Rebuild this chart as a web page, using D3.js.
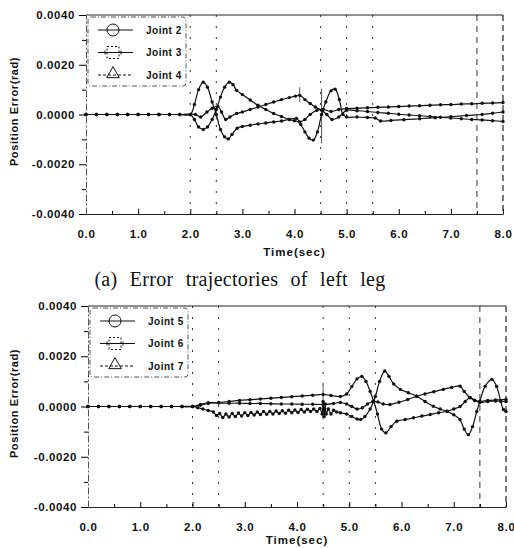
<!DOCTYPE html>
<html>
<head>
<meta charset="utf-8">
<script src="https://cdn.jsdelivr.net/npm/d3@7"></script>
<style>
  body { margin: 0; background: #fff; }
  svg { display: block; }
  text { font-family: "Liberation Sans", Arial, sans-serif; fill: #111; }
</style>
</head>
<body>
<script>
'use strict';

// tick values
const timeTicks = [0, 1, 2, 3, 4, 5, 6, 7, 8];
const timeMinor = [0.5, 1.5, 2.5, 3.5, 4.5, 5.5, 6.5, 7.5];
const errorTicks = [-0.004, -0.002, 0, 0.002, 0.004];
const errorMinor = [-0.003, -0.001, 0.001, 0.003];

// vertical phase markers (sec)
const phaseLines = [2.0, 2.5, 4.5, 5.0, 5.5, 7.5];

// legend names
const leftNames = ["Joint 2", "Joint 3", "Joint 4"];
const rightNames = ["Joint 5", "Joint 6", "Joint 7"];

// left leg, [time, error]
const joint2 = [[0,0],[0.2,0],[0.4,0],[0.6,0],[0.8,0],[1.0,0],[1.2,0],[1.4,0],[1.6,0],[1.8,0],[2.0,0],
  [2.08,0.0004],[2.16,0.0010],[2.25,0.0013],[2.33,0.0011],[2.42,0.0005],[2.5,0.0],[2.58,-0.0006],
  [2.66,-0.0009],[2.73,-0.00098],[2.8,-0.0008],[2.9,-0.00055],[3.0,-0.00048],[3.15,-0.00043],
  [3.3,-0.00038],[3.45,-0.00034],[3.6,-0.0003],[3.75,-0.00026],[3.9,-0.0002],[4.04,-0.00016],
  [4.12,-0.0004],[4.2,-0.0007],[4.28,-0.00095],[4.36,-0.00103],[4.44,-0.0007],[4.52,0.0],
  [4.6,0.0005],[4.7,0.00095],[4.78,0.00102],[4.86,0.0006],[4.93,0.0],[5.0,-0.0001],[5.2,-0.0001],
  [5.4,-0.00012],[5.55,-0.00014],[5.65,-0.00026],[5.85,-0.00024],[6.1,-0.00021],[6.4,-0.00017],
  [6.7,-0.00013],[7.0,-0.00009],[7.3,-0.00004],[7.6,0.0],[7.8,0.00005],[8.0,0.0001]];

const joint3 = [[0,0],[0.2,0],[0.4,0],[0.6,0],[0.8,0],[1.0,0],[1.2,0],[1.4,0],[1.6,0],[1.8,0],[2.0,0],
  [2.08,-0.0002],[2.16,-0.0005],[2.25,-0.0006],[2.33,-0.0005],[2.42,-0.0002],[2.5,0.0002],[2.58,0.0007],
  [2.66,0.0011],[2.75,0.0013],[2.82,0.0012],[2.89,0.00097],[3.0,0.0008],[3.15,0.00058],[3.3,0.00037],
  [3.45,0.0002],[3.6,0.00004],[3.75,-0.00008],[3.9,-0.0002],[4.0,-0.00025],[4.1,-0.0003],[4.2,-0.0002],
  [4.3,0.0],[4.43,0.00017],[4.55,0.0002],[4.7,0.00012],[4.85,0.0002],[5.0,0.00024],[5.2,0.00025],
  [5.4,0.00027],[5.6,0.00029],[5.8,0.0003],[6.0,0.00032],[6.2,0.00034],[6.4,0.00035],[6.6,0.00037],
  [6.8,0.00039],[7.0,0.0004],[7.2,0.00042],[7.4,0.00043],[7.6,0.00045],[7.8,0.00046],[8.0,0.00048]];

const joint4 = [[0,0],[0.2,0],[0.4,0],[0.6,0],[0.8,0],[1.0,0],[1.2,0],[1.4,0],[1.6,0],[1.8,0],[2.0,0],
  [2.1,0.0],[2.2,-0.0001],[2.32,0.0001],[2.42,0.00025],[2.53,0.00032],[2.6,0.0001],[2.68,-0.0002],
  [2.76,-0.0001],[2.89,0.00004],[3.0,0.0001],[3.15,0.0002],[3.3,0.0003],[3.45,0.0004],[3.6,0.0005],
  [3.75,0.0006],[3.9,0.00068],[4.02,0.00074],[4.1,0.00077],[4.2,0.0006],[4.3,0.00044],[4.4,0.0003],
  [4.52,0.00017],[4.62,0.0],[4.72,-0.0002],[4.85,-0.0001],[5.0,0.00017],[5.2,0.00015],[5.4,0.00012],
  [5.6,0.00008],[5.8,0.00005],[6.0,0.00001],[6.2,-0.00002],[6.4,-0.00005],[6.6,-0.00008],
  [6.8,-0.00011],[7.0,-0.00014],[7.2,-0.00017],[7.4,-0.0002],[7.6,-0.00022],[7.8,-0.00025],[8.0,-0.00028]];

// right leg, [time, error]
const joint5 = [[0,0],[0.2,0],[0.4,0],[0.6,0],[0.8,0],[1.0,0],[1.2,0],[1.4,0],[1.6,0],[1.8,0],[2.0,0],
  [2.1,-0.00005],[2.2,-0.0001],[2.3,-0.00016],[2.40,-0.00022],[2.46,-0.00036],[2.52,-0.00028],
  [2.58,-0.00044],[2.64,-0.0003],[2.70,-0.00042],[2.76,-0.00028],[2.82,-0.0004],[2.88,-0.00026],
  [2.94,-0.00038],[3.00,-0.00025],[3.06,-0.00036],[3.12,-0.00024],[3.18,-0.00034],[3.24,-0.00022],
  [3.30,-0.00032],[3.36,-0.0002],[3.42,-0.00031],[3.48,-0.0002],[3.54,-0.0003],[3.60,-0.00018],
  [3.66,-0.00028],[3.72,-0.00017],[3.78,-0.00027],[3.84,-0.00015],[3.90,-0.00025],[3.96,-0.00014],
  [4.02,-0.00024],[4.08,-0.00012],[4.14,-0.00022],[4.20,-0.00011],[4.26,-0.0002],[4.32,-0.0001],
  [4.38,-0.0002],[4.44,-0.00008],[4.48,-0.0003],[4.50,0.0002],[4.52,-0.0004],[4.54,0.0001],
  [4.56,-0.0003],[4.6,-0.0001],[4.65,-0.0003],[4.7,-0.00015],[4.76,-0.00022],[4.83,-0.00025],
  [4.95,-0.0003],[5.05,-0.0004],[5.15,-0.0005],[5.22,-0.00052],[5.3,-0.0004],[5.4,-0.0001],
  [5.5,0.0004],[5.58,0.001],[5.68,0.00141],[5.76,0.0012],[5.85,0.0009],[5.98,0.00068],[6.13,0.00055],
  [6.29,0.00041],[6.45,0.0002],[6.61,0.00001],[6.74,-0.0001],[6.87,-0.00019],[7.0,-0.00033],
  [7.12,-0.00052],[7.2,-0.0009],[7.28,-0.00112],[7.36,-0.0008],[7.44,-0.0002],[7.5,0.0002],
  [7.6,0.0008],[7.73,0.00108],[7.82,0.0008],[7.9,0.0002],[7.95,-0.00012],[8.0,-0.0002]];

const joint6 = [[0,0],[0.2,0],[0.4,0],[0.6,0],[0.8,0],[1.0,0],[1.2,0],[1.4,0],[1.6,0],[1.8,0],[2.0,0],
  [2.15,0.00008],[2.3,0.00015],[2.5,0.00014],[2.7,0.00013],[2.9,0.00013],[3.1,0.00012],[3.3,0.00012],
  [3.5,0.00011],[3.7,0.0001],[3.9,0.0001],[4.1,0.00009],[4.3,0.00009],[4.5,0.00008],[4.7,0.00012],
  [4.83,0.00016],[4.95,0.0001],[5.05,0.0],[5.15,-0.0001],[5.25,-0.00005],[5.35,0.0001],[5.45,0.0002],
  [5.55,0.00018],[5.65,0.0001],[5.78,0.00008],[5.95,0.00017],[6.12,0.00028],[6.29,0.00041],
  [6.45,0.0005],[6.62,0.00059],[6.8,0.00068],[6.96,0.00076],[7.12,0.00081],[7.2,0.0006],
  [7.31,0.00036],[7.4,0.00024],[7.5,0.00016],[7.65,0.0002],[7.8,0.00022],[8.0,0.0002]];

const joint7 = [[0,0],[0.2,0],[0.4,0],[0.6,0],[0.8,0],[1.0,0],[1.2,0],[1.4,0],[1.6,0],[1.8,0],[2.0,0],
  [2.15,0.00005],[2.3,0.00012],[2.5,0.00016],[2.7,0.0002],[2.9,0.00024],[3.1,0.00027],[3.3,0.0003],
  [3.5,0.00033],[3.7,0.00036],[3.9,0.00039],[4.1,0.00042],[4.3,0.00045],[4.5,0.00048],[4.65,0.00044],
  [4.83,0.0004],[4.95,0.0005],[5.05,0.0008],[5.15,0.0011],[5.24,0.0012],[5.32,0.001],[5.4,0.0006],
  [5.47,0.0002],[5.54,-0.0003],[5.62,-0.0009],[5.7,-0.00105],[5.8,-0.0008],[5.91,-0.00059],
  [6.07,-0.00052],[6.23,-0.00045],[6.39,-0.00038],[6.55,-0.00032],[6.71,-0.00025],[6.87,-0.00019],
  [7.0,-0.0001],[7.12,0.0],[7.22,0.0002],[7.31,0.00035],[7.4,0.00025],[7.5,0.0002],[7.65,0.00024],
  [7.8,0.00026],[8.0,0.00028]];

// thin vertical glitches in the trace, [time, low, high]
const leftSpikes = [[4.1, 0.0005, 0.0011], [4.52, -0.00116, 0.00104], [2.5, -0.0002, 0.0003]];
const rightSpikes = [[4.5, -0.00052, 0.00088]];

const svg = d3.select('body').append('svg')
  .attr('width', 514)
  .attr('height', 548);

drawPanel({ left: 86, right: 503, top: 15, bottom: 214, titleGap: 42 },
  [joint2, joint3, joint4], leftNames, leftSpikes);
drawPanel({ left: 88, right: 506, top: 306, bottom: 507, titleGap: 37 },
  [joint5, joint6, joint7], rightNames, rightSpikes);

// caption under the first panel
svg.append('text')
  .attr('x', 240)
  .attr('y', 286)
  .attr('text-anchor', 'middle')
  .style('font-family', '"Liberation Serif", "Times New Roman", serif')
  .style('font-size', '20px')
  .style('letter-spacing', '0.3px')
  .style('word-spacing', '7px')
  .text('(a) Error trajectories of left leg');

function drawPanel(box, series, names, spikes) {
  let x = d3.scaleLinear().domain([0, 8]).range([box.left, box.right]);
  let y = d3.scaleLinear().domain([-0.004, 0.004]).range([box.bottom, box.top]);
  let g = svg.append('g');

  // phase lines
  g.selectAll('.phase')
    .data(phaseLines)
    .enter()
    .append('line')
    .attr('x1', d => x(d)).attr('x2', d => x(d))
    .attr('y1', box.top).attr('y2', box.bottom)
    .attr('stroke', '#333')
    .attr('stroke-width', 1)
    .attr('stroke-dasharray', d => d == 7.5 ? '6,5' : '2,9');

  // frame: top solid, right dashed
  g.append('line')
    .attr('x1', box.left).attr('x2', box.right)
    .attr('y1', box.top).attr('y2', box.top)
    .attr('stroke', '#222').attr('stroke-width', 1);
  g.append('line')
    .attr('x1', box.right).attr('x2', box.right)
    .attr('y1', box.top).attr('y2', box.bottom)
    .attr('stroke', '#222').attr('stroke-width', 1.2)
    .attr('stroke-dasharray', '6,4');

  // x axis
  let xAxis = d3.axisBottom(x)
    .tickValues(timeTicks)
    .tickSize(-5)
    .tickSizeOuter(0)
    .tickPadding(16)
    .tickFormat(d => d.toFixed(1));
  let gx = g.append('g')
    .attr('transform', 'translate(0,' + box.bottom + ')')
    .call(xAxis);
  gx.selectAll('text')
    .style('font-size', '11.5px')
    .style('font-weight', 'bold')
    .style('letter-spacing', '0.6px');
  gx.select('.domain').attr('stroke', '#222');

  g.append('g')
    .attr('transform', 'translate(0,' + box.bottom + ')')
    .call(d3.axisBottom(x).tickValues(timeMinor).tickSize(-3).tickSizeOuter(0).tickFormat(''))
    .select('.domain').remove();

  // y axis
  let yAxis = d3.axisLeft(y)
    .tickValues(errorTicks)
    .tickSize(7)
    .tickSizeOuter(0)
    .tickPadding(4)
    .tickFormat(d => d.toFixed(4));
  let gy = g.append('g')
    .attr('transform', 'translate(' + box.left + ',0)')
    .call(yAxis);
  gy.selectAll('text')
    .style('font-size', '11.5px')
    .style('font-weight', 'bold')
    .style('letter-spacing', '0.6px');
  gy.select('.domain')
    .attr('stroke', '#555')
    .attr('stroke-dasharray', '7,2,2,2');

  g.append('g')
    .attr('transform', 'translate(' + box.left + ',0)')
    .call(d3.axisLeft(y).tickValues(errorMinor).tickSize(4).tickSizeOuter(0).tickFormat(''))
    .select('.domain').remove();

  // axis titles
  g.append('text')
    .attr('x', (box.left + box.right) / 2)
    .attr('y', box.bottom + box.titleGap)
    .attr('text-anchor', 'middle')
    .style('font-size', '11.5px')
    .style('font-weight', 'bold')
    .style('letter-spacing', '1px')
    .text('Time(sec)');

  g.append('text')
    .attr('transform', 'translate(18,' + (y(0) - 3) + ')rotate(-90)')
    .attr('text-anchor', 'middle')
    .style('font-size', '11px')
    .style('font-weight', 'bold')
    .style('letter-spacing', '0.6px')
    .text('Position Error(rad)');

  // glitches
  g.selectAll('.spike')
    .data(spikes)
    .enter()
    .append('line')
    .attr('x1', d => x(d[0])).attr('x2', d => x(d[0]))
    .attr('y1', d => y(d[1])).attr('y2', d => y(d[2]))
    .attr('stroke', '#555')
    .attr('stroke-width', 1);

  // error curves
  let line = d3.line()
    .x(d => x(d[0]))
    .y(d => y(d[1]))
    .curve(d3.curveCatmullRom.alpha(0.5));

  series.forEach((s) => {
    g.append('path')
      .datum(s)
      .attr('d', line)
      .attr('fill', 'none')
      .attr('stroke', '#111')
      .attr('stroke-width', 1.2);

    g.selectAll(null)
      .data(s)
      .enter()
      .append('circle')
      .attr('cx', d => x(d[0]))
      .attr('cy', d => y(d[1]))
      .attr('r', 1.7)
      .attr('fill', '#111');
  });

  drawLegend(g, box, names);
}

// legend box in the upper left corner of a panel
function drawLegend(g, box, names) {
  let lx = box.left + 2;
  let ly = box.top + 2;
  let leg = g.append('g').attr('transform', 'translate(' + lx + ',' + ly + ')');

  leg.append('rect')
    .attr('width', 98)
    .attr('height', 69)
    .attr('rx', 3)
    .attr('fill', '#fff')
    .attr('stroke', '#555')
    .attr('stroke-width', 1)
    .attr('stroke-dasharray', '5,2,1,2');

  names.forEach((name, i) => {
    let cy = 13 + i * 22.5;
    let row = leg.append('g').attr('transform', 'translate(0,' + cy + ')');

    row.append('line')
      .attr('x1', 10).attr('x2', 45)
      .attr('y1', 0).attr('y2', 0)
      .attr('stroke', '#111')
      .attr('stroke-width', 1)
      .attr('stroke-dasharray', i == 2 ? '3,2' : null);

    if (i == 0) {
      row.append('circle')
        .attr('cx', 25).attr('cy', 0).attr('r', 6)
        .attr('fill', 'none').attr('stroke', '#111');
    } else if (i == 1) {
      row.append('rect')
        .attr('x', 19).attr('y', -6).attr('width', 12).attr('height', 12)
        .attr('fill', 'none').attr('stroke', '#111')
        .attr('stroke-dasharray', '2,2');
      row.append('line')
        .attr('x1', 17).attr('x2', 17).attr('y1', -2).attr('y2', 2)
        .attr('stroke', '#111');
      row.append('line')
        .attr('x1', 33).attr('x2', 33).attr('y1', -2).attr('y2', 2)
        .attr('stroke', '#111');
    } else {
      row.append('path')
        .attr('d', d3.symbol().type(d3.symbolTriangle).size(70)())
        .attr('transform', 'translate(25,-1)')
        .attr('fill', 'none').attr('stroke', '#111');
    }

    row.append('text')
      .attr('x', 58)
      .attr('y', 3.5)
      .style('font-size', '10px')
      .style('font-weight', 'bold')
      .style('letter-spacing', '0.5px')
      .text(name);
  });
}
</script>
</body>
</html>
